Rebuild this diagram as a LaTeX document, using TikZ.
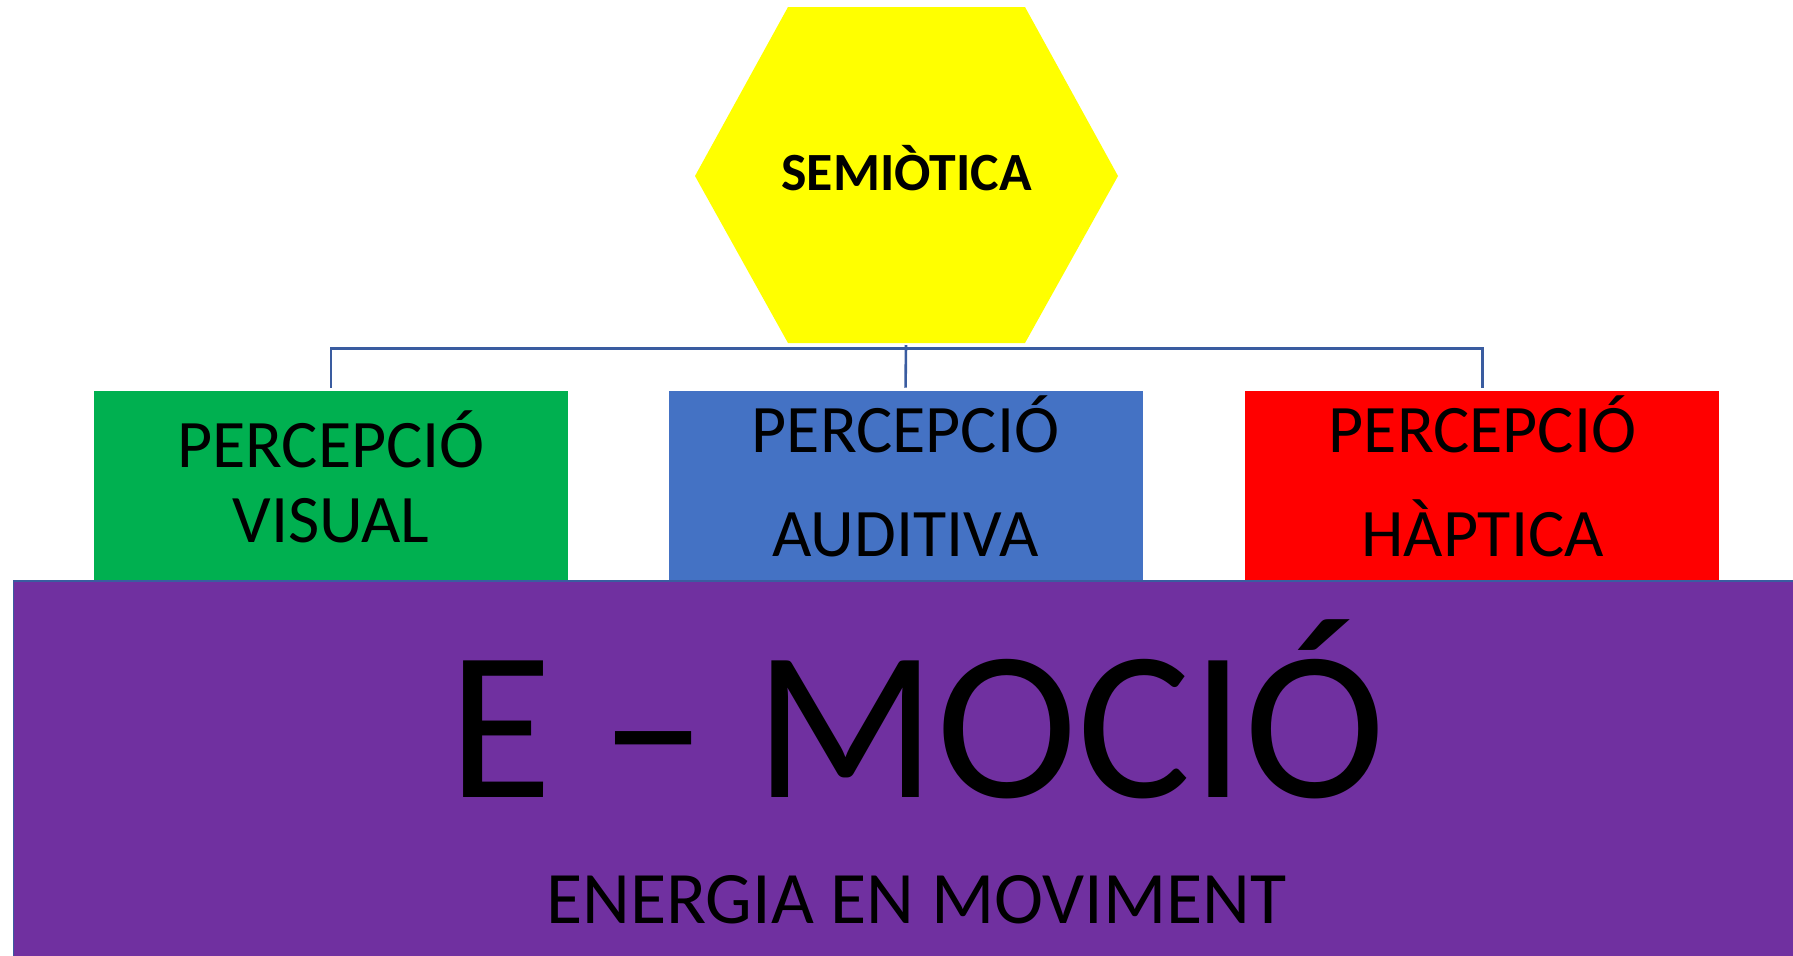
\documentclass[tikz,border=0pt]{standalone}
\usepackage{fontspec}
\setmainfont{Carlito}
\definecolor{hexyellow}{RGB}{255,255,0}
\definecolor{boxgreen}{RGB}{0,176,80}
\definecolor{boxblue}{RGB}{68,114,196}
\definecolor{boxred}{RGB}{255,0,0}
\definecolor{boxpurple}{RGB}{112,48,160}
\definecolor{connblue}{RGB}{58,92,160}
\tikzset{
  percbox/.style={draw=none, minimum width=237pt, minimum height=95pt, inner sep=0pt},
  conn/.style={draw=connblue, line width=1.3pt},
  perctext/.style={anchor=base, inner sep=0pt, font=\fontsize{34}{40}\selectfont},
}
\begin{document}
\begin{tikzpicture}[x=0.5pt,y=-0.5pt]
\useasboundingbox (0,0) rectangle (1793,955);
% hexagon
\fill[hexyellow] (788,7) -- (1025,7) -- (1118,176) -- (1025,343) -- (788,343) -- (695,176) -- cycle;
\node[anchor=base, inner sep=0pt, font=\bfseries\fontsize{26.9}{32}\selectfont] (semt) at (906.5,190.7) {SEMIÒTICA};
\coordinate (hexb) at (906,345);
\coordinate (bus) at (906,348.5);
% boxes
\node[percbox, fill=boxgreen] (vis) at (331,486) {};
\node[percbox, fill=boxblue] (aud) at (905.5,486) {};
\node[percbox, fill=boxred] (hap) at (1482.25,486) {};
% connectors
\draw[conn, shorten <=1.5pt, shorten >=1.5pt] (vis.north) |- (bus) -| (hap.north);
\draw[conn, shorten >=1.5pt] (hexb) -- (aud.north);
% box texts
\node[perctext] (vis1) at (331,467.7) {PERCEPCIÓ};
\node[perctext] (vis2) at (331,542.7) {VISUAL};
\node[perctext] (aud1) at (905.5,452.7) {PERCEPCIÓ};
\node[perctext] (aud2) at (905.5,556.7) {AUDITIVA};
\node[perctext] (hap1) at (1482.5,452.7) {PERCEPCIÓ};
\node[perctext] (hap2) at (1482.5,556.7) {HÀPTICA};
% purple base
\fill[boxpurple] (13.7,581) rectangle (1800,960);
\draw[draw=connblue, line width=0.75pt] (13.7,960) -- (13.7,581) -- (1800,581);
\node[anchor=base, inner sep=0pt, font=\fontsize{106.5}{120}\selectfont] (emo) at (917,797.3) {E – MOCIÓ};
\node[anchor=base, inner sep=0pt, font=\fontsize{37}{44}\selectfont] (ener) at (916.5,923.3) {ENERGIA EN MOVIMENT};
\end{tikzpicture}
\end{document}
